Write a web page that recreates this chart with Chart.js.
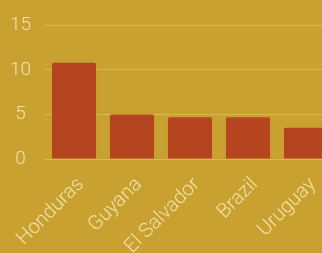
<!DOCTYPE html>
<html>
<head>
<meta charset="utf-8">
<script src="https://cdn.jsdelivr.net/npm/chart.js@4/dist/chart.umd.min.js"></script>
<style>
    html, body { margin: 0; padding: 0; background: #c9a130; overflow: hidden; }
    #wrap { position: relative; width: 335px; height: 253px; }
</style>
</head>
<body>
<div id="wrap"><canvas id="chart"></canvas></div>
<script>
const countries = ['Honduras', 'Guyana', 'El Salvador', 'Brazil', 'Uruguay'];
const rates = [10.8, 5.0, 4.7, 4.7, 3.5];
const yTicks = [0, 5, 10, 15];

const labelColor = '#f1e2a8';

new Chart(document.getElementById('chart'), {
    type: 'bar',
    data: {
        labels: countries,
        datasets: [{
            data: rates,
            backgroundColor: '#b5451f',
            borderRadius: 2,
            borderSkipped: 'bottom',
            categoryPercentage: 0.76,
            barPercentage: 1
        }]
    },
    options: {
        responsive: true,
        maintainAspectRatio: false,
        animation: false,
        layout: { padding: { top: 5, right: 0, left: 0, bottom: 0 } },
        plugins: {
            legend: { display: false },
            tooltip: { enabled: false }
        },
        scales: {
            x: {
                grid: { display: false },
                border: { display: false },
                ticks: {
                    color: labelColor,
                    font: { family: 'Roboto', size: 20, weight: '300' },
                    minRotation: 45,
                    maxRotation: 45,
                    labelOffset: 7,
                    padding: 6
                },
                afterFit: scale => { scale.height = 94; }
            },
            y: {
                min: 0,
                max: 15,
                afterBuildTicks: scale => { scale.ticks = yTicks.map(v => ({ value: v })); },
                grid: { color: 'rgba(240, 215, 110, 0.45)', lineWidth: 1, drawTicks: false },
                border: { display: false },
                ticks: {
                    color: labelColor,
                    font: { family: 'Roboto', size: 19, weight: '300' },
                    crossAlign: 'center',
                    padding: 14
                },
                afterFit: scale => { scale.width = 45; }
            }
        }
    }
});
</script>
</body>
</html>
